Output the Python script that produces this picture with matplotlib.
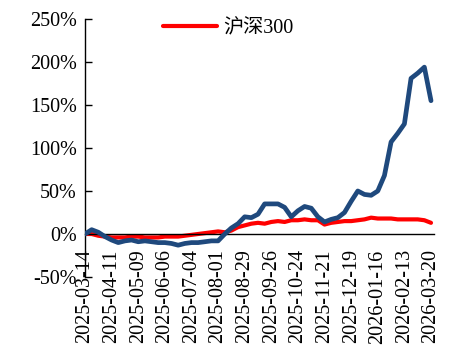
import matplotlib
matplotlib.use("Agg")
import matplotlib.pyplot as plt
from matplotlib.ticker import FuncFormatter, FixedLocator

plt.rcParams['font.family'] = ['Liberation Serif', 'Noto Sans CJK SC']

# labelled dates on the weekly category axis (every 4th week plus the last)
tick_labels = [
    "2025-03-14", "2025-04-11", "2025-05-09", "2025-06-06", "2025-07-04",
    "2025-08-01", "2025-08-29", "2025-09-26", "2025-10-24", "2025-11-21",
    "2025-12-19", "2026-01-16", "2026-02-13", "2026-03-20",
]

# cumulative return, %
portfolio = [
    0, 5, 2, -3, -7, -10, -8, -7, -9, -8, -9, -10, -10, -11, -13, -11, -10,
    -10, -9, -8, -8, 0, 7, 12, 20, 19, 23, 35, 35, 35, 31, 20, 27, 32, 30,
    20, 14, 17, 19, 25, 38, 50, 46, 45, 50, 68, 107, 117, 128, 181, 187,
    194, 155,
]
hs300 = [
    0, 0, -2, -3, -4, -4, -4, -3, -3, -4, -4, -4, -3, -3, -3, -2, -1, 0, 1,
    2, 3, 2, 4, 8, 10, 12, 13, 12, 14, 15, 14, 16, 16, 17, 16, 16, 11, 13,
    14, 15, 15, 16, 17, 19, 18, 18, 18, 17, 17, 17, 17, 16, 13,
]

n = len(portfolio)
x = list(range(n))
tick_pos = list(range(0, n, 4))
if tick_pos[-1] != n - 1:
    tick_pos.append(n - 1)

fig = plt.figure(figsize=(4.51, 3.46), dpi=100)
ax = fig.add_axes([85 / 451, 1 - 277 / 346, 349 / 451, 258 / 346])

ax.plot(x, portfolio, color="#1F497D", lw=3.4, solid_joinstyle="round",
        solid_capstyle="round", zorder=3)
ax.plot(x, hs300, color="#FF0000", lw=3.0, solid_joinstyle="round",
        solid_capstyle="round", zorder=2, label="沪深300")

ax.set_xlim(0, n - 1 + 0.45)
ax.set_ylim(-50, 250)
ax.yaxis.set_major_locator(FixedLocator([-50, 0, 50, 100, 150, 200, 250]))
ax.yaxis.set_major_formatter(FuncFormatter(lambda v, p: f"{v:.0f}%"))

ax.set_xticks(tick_pos)
ax.set_xticklabels(tick_labels)

for s in ("top", "right"):
    ax.spines[s].set_visible(False)
ax.spines["bottom"].set_position(("data", 0))
ax.spines["bottom"].set_linewidth(1.0)
ax.spines["left"].set_linewidth(1.0)

ax.tick_params(axis="y", direction="in", length=5, width=1.0,
               labelsize=14.5, pad=6)
ax.tick_params(axis="x", length=0, labelsize=14.5, pad=11, labelrotation=90)
for lab in ax.get_xticklabels():
    lab.set_ha("center")
    lab.set_va("top")

fig.legend(loc="center left", bbox_to_anchor=(163 / 451, 1 - 29 / 346),
           frameon=False, fontsize=14.5, handlelength=2.7,
           handletextpad=0.3, borderpad=0, borderaxespad=0)

fig.savefig("out.png", dpi=100)
